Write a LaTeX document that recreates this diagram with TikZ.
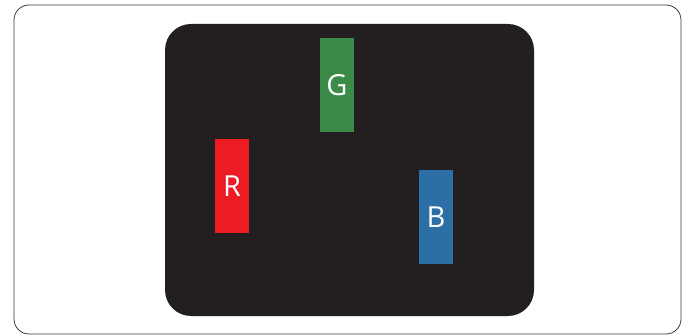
\documentclass[tikz,border=0pt]{standalone}
\usepackage{fontspec}
\setsansfont{Open Sans}
\usepackage{xcolor}
\usepackage{tikz}
\usetikzlibrary{positioning}
\definecolor{panel}{HTML}{231F20}
\definecolor{frame}{HTML}{3A3A3A}
\definecolor{subred}{HTML}{ED1C24}
\definecolor{subgreen}{HTML}{3B8A47}
\definecolor{subblue}{HTML}{2B6FA6}
\tikzset{
  outer/.style   = {rectangle, rounded corners=15pt, draw=frame, line width=0.8pt,
                    fill=white, minimum width=667pt, minimum height=329pt},
  screen/.style  = {rectangle, rounded corners=26pt, fill=panel,
                    minimum width=369pt, minimum height=292pt},
  subpix/.style  = {rectangle, minimum width=34pt, minimum height=94pt,
                    inner sep=0pt, text=white, font=\sffamily\fontsize{29}{29}\selectfont},
}

\begin{document}
\begin{tikzpicture}[x=1pt, y=-1pt]

  \useasboundingbox (0,0) rectangle (690,336);

  \node[outer]  (box) at (347.5,169.5) {};
  \node[screen] (scr) at (349.5,170) {};

  \node[subpix, fill=subgreen] (g) at (337,85)  {G};
  \node[subpix, fill=subred]   (r) at (232,186) {R};
  \node[subpix, fill=subblue]  (b) at (436,217) {B};

\end{tikzpicture}
\end{document}
